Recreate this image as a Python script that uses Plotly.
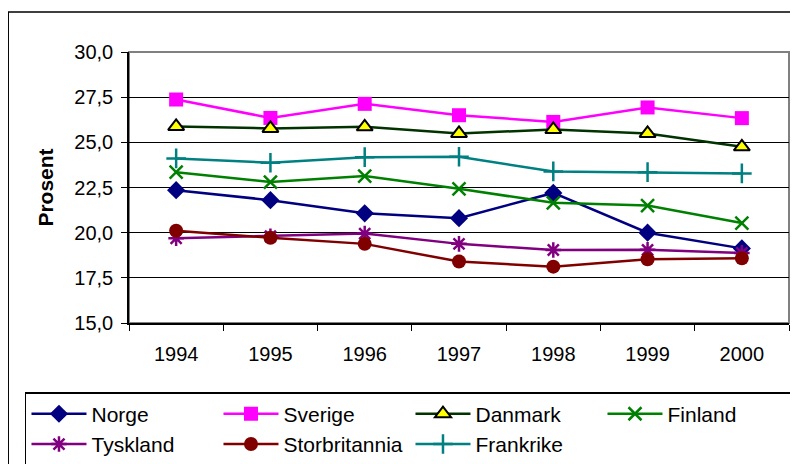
import plotly.graph_objects as go

years = ["1994", "1995", "1996", "1997", "1998", "1999", "2000"]

norge = [22.35, 21.8, 21.07, 20.8, 22.2, 20.0, 19.13]
sverige = [27.37, 26.35, 27.13, 26.5, 26.13, 26.93, 26.34]
danmark = [25.88, 25.77, 25.86, 25.49, 25.71, 25.49, 24.75]
finland = [23.35, 22.8, 23.13, 22.43, 21.65, 21.5, 20.53]
tyskland = [19.69, 19.8, 19.95, 19.38, 19.04, 19.05, 18.88]
storbritannia = [20.11, 19.72, 19.38, 18.4, 18.12, 18.53, 18.58]
frankrike = [24.11, 23.87, 24.18, 24.2, 23.39, 23.35, 23.28]

series = [
    ("Norge", norge, "#000080", dict(symbol="diamond", size=14, color="#000080")),
    ("Sverige", sverige, "#FF00FF", dict(symbol="square", size=14, color="#FF00FF")),
    ("Danmark", danmark, "#003300", dict(symbol="triangle-up", size=14, color="#FFFF00",
                                         line=dict(color="#000000", width=2))),
    ("Finland", finland, "#008000", dict(symbol="x-thin", size=13, color="#008000",
                                         line=dict(color="#008000", width=2.5))),
    ("Tyskland", tyskland, "#800080", dict(symbol="asterisk", size=13, color="#800080",
                                           line=dict(color="#800080", width=2.5))),
    ("Storbritannia", storbritannia, "#800000", dict(symbol="circle", size=14, color="#800000")),
    ("Frankrike", frankrike, "#008080", dict(symbol="cross-thin", size=14, color="#008080",
                                             line=dict(color="#008080", width=2.5))),
]

fig = go.Figure()
for name, vals, col, marker in series:
    fig.add_trace(go.Scatter(
        x=years, y=vals, name=name, mode="lines+markers",
        line=dict(color=col, width=2.5), marker=marker,
    ))

font = "Arial, Liberation Sans, sans-serif"

# page has an 8px body margin, so the figure is a bit smaller than the window
fig.update_layout(
    width=790, height=456,
    margin=dict(l=121, r=9, t=44, b=141, autoexpand=False),
    paper_bgcolor="white", plot_bgcolor="white",
    separators=",.",
    font=dict(family=font, color="black", size=20),
    showlegend=True,
    legend=dict(
        orientation="h", x=-0.1576, y=-0.255, xanchor="left", yanchor="top",
        entrywidth=122, entrywidthmode="pixels",
        bordercolor="black", borderwidth=1.5, bgcolor="white",
        font=dict(family=font, size=21, color="black"),
        tracegroupgap=0, itemwidth=55,
    ),
    xaxis=dict(
        type="category", range=[-0.5, 6.5], automargin=False,
        showline=True, linecolor="black", linewidth=1.5,
        ticks="outside", tickson="boundaries", ticklen=6, tickcolor="black",
        ticklabelstandoff=12,
        tickfont=dict(size=20), showgrid=False, fixedrange=True,
    ),
    yaxis=dict(
        range=[15, 30], dtick=2.5, tickformat=".1f", automargin=False,
        showline=True, linecolor="black", linewidth=1.5,
        ticks="outside", ticklen=6, tickcolor="black", ticklabelstandoff=4,
        showgrid=True, gridcolor="black", gridwidth=1,
        zeroline=False, tickfont=dict(size=20),
        title=dict(text="<b>Prosent</b>", font=dict(size=21), standoff=15),
    ),
    shapes=[
        # grey plot-area frame (top/right)
        dict(type="rect", xref="paper", yref="paper", x0=0, x1=1, y0=0, y1=1,
             line=dict(color="#808080", width=2), layer="below"),
        # outer chart border
        dict(type="rect", xref="paper", yref="paper", x0=-0.183, x1=1.03,
             y0=-0.6, y1=1.1476, line=dict(color="black", width=1.5)),
    ],
)

fig.write_html("out.html")
